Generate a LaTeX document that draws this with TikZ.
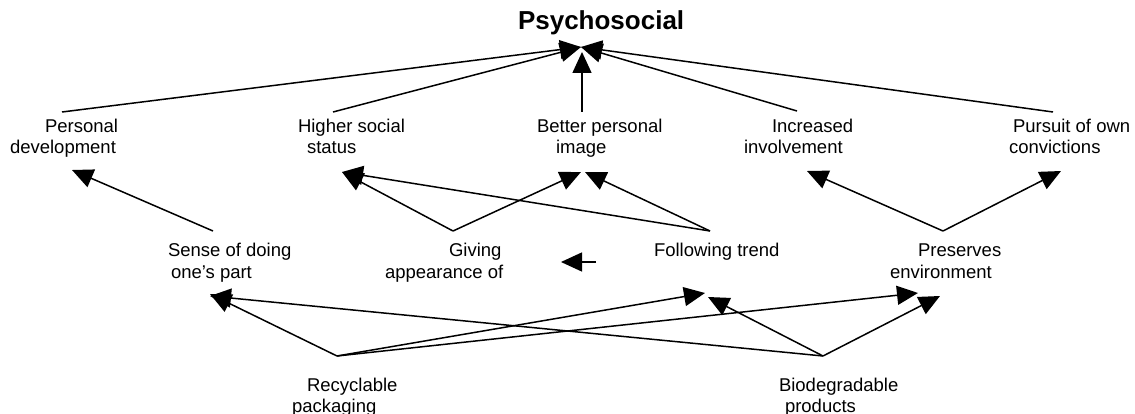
\documentclass[tikz,border=0pt]{standalone}
\usepackage{fontspec}
\setmainfont{Liberation Sans}
\usetikzlibrary{arrows.meta}
\begin{document}
\begin{tikzpicture}[x=1pt,y=-1pt,
  lbl/.style={anchor=base west,inner sep=0pt,outer sep=0pt,font=\fontsize{18.5}{22}\selectfont},
  ttl/.style={anchor=base west,inner sep=0pt,outer sep=0pt,font=\fontsize{26}{30}\selectfont\bfseries},
  arr/.style={line width=1.5pt,-{Triangle[length=21pt,width=19pt]}}
]
\useasboundingbox[fill=white] (0,0) rectangle (1135,414);

% title
\node[ttl] (psy) at (518,30) {Psychosocial};

% row 1
\node[lbl] (pd)  at (45,133)  {Personal};
\node[lbl] (pd2) at (10,154)  {development};
\node[lbl] (hs)  at (298,133) {Higher social};
\node[lbl] (hs2) at (307,154) {status};
\node[lbl] (bp)  at (537,133) {Better personal};
\node[lbl] (bp2) at (556,154) {image};
\node[lbl] (ii)  at (772,133) {Increased};
\node[lbl] (ii2) at (744,154) {involvement};
\node[lbl] (po)  at (1013,133) {Pursuit of own};
\node[lbl] (po2) at (1009,154) {convictions};

% row 2
\node[lbl] (sd)  at (168,256) {Sense of doing};
\node[lbl] (sd2) at (171,278) {one’s part};
\node[lbl] (ga)  at (449,256) {Giving};
\node[lbl] (ga2) at (385,278) {appearance of};
\node[lbl] (ft)  at (654,256) {Following trend};
\node[lbl] (pe)  at (918,256) {Preserves};
\node[lbl] (pe2) at (890,278) {environment};

% row 3
\node[lbl] (rp)  at (307,391) {Recyclable};
\node[lbl] (rp2) at (292,412) {packaging};
\node[lbl] (bd)  at (779,391) {Biodegradable};
\node[lbl] (bd2) at (785,412) {products};

% ports
\coordinate (psy-in)  at (581,47);
\coordinate (psy-inv) at (582,52);
\coordinate (pd-out) at (62,112);
\coordinate (hs-out) at (333,112);
\coordinate (bp-out) at (582,112);
\coordinate (ii-out) at (797,111);
\coordinate (po-out) at (1053,112);

\coordinate (pd-in)  at (72,170);
\coordinate (hs-in)  at (342,172);
\coordinate (bp-inA) at (581,172);
\coordinate (bp-inB) at (585,172);
\coordinate (ii-in)  at (807,171);
\coordinate (po-in)  at (1061,171);

\coordinate (sd-out) at (213,231);
\coordinate (ga-out) at (453,231);
\coordinate (ft-out) at (710,231);
\coordinate (pe-out) at (943,231);

\coordinate (sd-inA) at (210,294);
\coordinate (sd-inB) at (210,296);
\coordinate (ft-inA) at (705,293);
\coordinate (ft-inB) at (708,297);
\coordinate (pe-inA) at (918,293);
\coordinate (pe-inB) at (940,296);

\coordinate (rp-out) at (337,356);
\coordinate (bd-out) at (823,356);

\coordinate (stubA) at (596,262);
\coordinate (stubB) at (561,262);

% top arrows
\draw[arr] (pd-out) -- (psy-in);
\draw[arr] (hs-out) -- (psy-in);
\draw[arr] (ii-out) -- (psy-in);
\draw[arr] (po-out) -- (psy-in);
\draw[arr] (bp-out) -- (psy-inv);

% middle arrows
\draw[arr] (sd-out) -- (pd-in);
\draw[arr] (ga-out) -- (hs-in);
\draw[arr] (ga-out) -- (bp-inA);
\draw[arr] (ft-out) -- (bp-inB);
\draw[arr] (ft-out) -- (hs-in);
\draw[arr] (pe-out) -- (ii-in);
\draw[arr] (pe-out) -- (po-in);
\draw[arr] (stubA) -- (stubB);

% bottom arrows
\draw[arr] (rp-out) -- (sd-inA);
\draw[arr] (rp-out) -- (ft-inA);
\draw[arr] (rp-out) -- (pe-inA);
\draw[arr] (bd-out) -- (sd-inB);
\draw[arr] (bd-out) -- (ft-inB);
\draw[arr] (bd-out) -- (pe-inB);
\end{tikzpicture}
\end{document}
